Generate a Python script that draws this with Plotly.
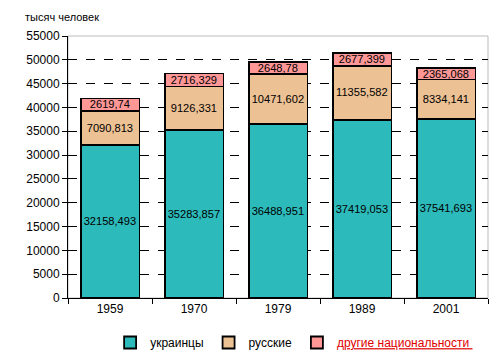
import plotly.graph_objects as go

years = ["1959", "1970", "1979", "1989", "2001"]
ukrainians = [32158.493, 35283.857, 36488.951, 37419.053, 37541.693]
russians = [7090.813, 9126.331, 10471.602, 11355.582, 8334.141]
others = [2619.74, 2716.329, 2648.78, 2677.399, 2365.068]
ukr_labels = ["32158,493", "35283,857", "36488,951", "37419,053", "37541,693"]
rus_labels = ["7090,813", "9126,331", "10471,602", "11355,582", "8334,141"]
oth_labels = ["2619,74", "2716,329", "2648,78", "2677,399", "2365,068"]
y_ticks = list(range(0, 55001, 5000))
y_ticktext = [str(v) for v in y_ticks]

FONT = "Liberation Sans, Arial, sans-serif"

fig = go.Figure()
series = [
    ("украинцы", ukrainians, ukr_labels, "#2CBABA"),
    ("русские", russians, rus_labels, "#ECC194"),
    ('<span style="color:#E00000;text-decoration:underline">другие национальности </span>', others, oth_labels, "#FF9797"),
]
for name, vals, labels, color in series:
    fig.add_trace(go.Bar(
        x=years, y=vals, name=name, text=labels,
        textposition="inside", insidetextanchor="middle", textangle=0,
        textfont=dict(family=FONT, size=12, color="black"),
        marker=dict(color=color, line=dict(color="black", width=1.8)),
        width=0.7, cliponaxis=False,
    ))

fig.update_layout(
    barmode="stack",
    width=491, height=352,
    margin=dict(l=60, r=11, t=28, b=62),
    paper_bgcolor="white", plot_bgcolor="white",
    font=dict(family=FONT, size=12, color="black"),
    uniformtext=dict(minsize=11, mode="show"),
    showlegend=True,
    legend=dict(orientation="h", xref="container", yref="container",
                x=0.208, xanchor="left", y=0.0085, yanchor="bottom",
                font=dict(family=FONT, size=12, color="black"),
                traceorder="normal"),
    xaxis=dict(type="category", showline=True, linecolor="black", linewidth=1,
               ticks="outside", tickson="boundaries", ticklen=5, tickcolor="black",
               showgrid=False, tickfont=dict(size=12)),
    yaxis=dict(range=[0, 55000], tickvals=y_ticks, ticktext=y_ticktext, showline=True,
               linecolor="black", linewidth=1, ticks="outside", ticklen=5, tickcolor="black",
               showgrid=True, gridcolor="black", griddash="dash", gridwidth=1,
               zeroline=False, tickfont=dict(size=12)),
    shapes=[dict(type="rect", xref="paper", yref="paper", x0=0, x1=1, y0=0, y1=1,
                 line=dict(color="#BBBBBB", width=1), layer="below")],
    annotations=[dict(text="тысяч человек", xref="paper", yref="paper",
                      x=-0.107, y=1.042, xanchor="left", yanchor="bottom",
                      showarrow=False, font=dict(size=11))],
)

fig.write_html("out.html")
